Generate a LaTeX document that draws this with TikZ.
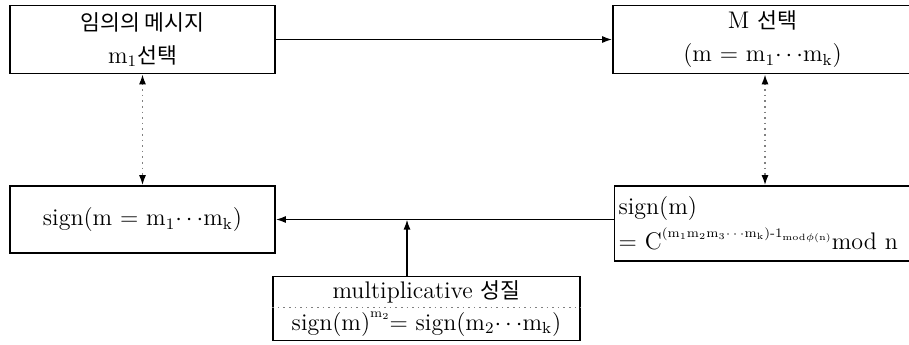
\documentclass[tikz,border=0pt]{standalone}
\usepackage{fontspec}
\newfontfamily\kr[Scale=0.9]{Noto Sans CJK KR}
\usepackage{tikz}
\usetikzlibrary{arrows.meta,shapes.multipart}
\newcommand{\expo}[1]{\raisebox{1.2ex}{\fontsize{6.5}{7}\selectfont #1}}
\tikzset{
    box/.style={draw, line width=0.8pt, rectangle, align=center,
        font=\fontsize{12}{16.5}\selectfont, inner sep=2pt},
    link/.style={line width=0.8pt, -{Latex[length=5pt,width=3.5pt]}},
    dotlink/.style={gray, dotted, line width=0.8pt,
        {Latex[length=5pt,width=3.5pt,black]}-{Latex[length=5pt,width=3.5pt,black]}}
}

\begin{document}
\begin{tikzpicture}[x=0.5pt,y=-0.5pt]
	\useasboundingbox (0,0) rectangle (909,344);
	\node[box, minimum width=132.5pt, minimum height=34pt] (pick) at (142.5,39.5)
		{{\kr 임의의 메시지}\\m\textsubscript{1}{\kr 선택}};
	\node[box, minimum width=149.5pt, minimum height=34pt] (choose) at (762.5,39.5)
		{M {\kr 선택}\\(m = m\textsubscript{1}$\cdots$m\textsubscript{k})};
	\node[box, minimum width=132.5pt, minimum height=33.5pt] (result) at (142.5,219.5)
		{sign(m = m\textsubscript{1}$\cdots$m\textsubscript{k})};
	\node[box, text width=146pt, align=left, minimum height=37.5pt] (sig) at (764.5,223.5)
		{sign(m)\\[1pt]\mbox{= C\expo{(m\textsubscript{1}m\textsubscript{2}m\textsubscript{3}$\cdots$m\textsubscript{k})-1\textsubscript{mod$\phi$(n)}}mod n}};
	\node[box, rectangle split, rectangle split parts=2, rectangle split draw splits=false,
		minimum width=153.5pt, inner xsep=1.5pt, inner ysep=1.8pt] (mult) at (426.5,308.5)
		{multiplicative {\kr 성질}
		\nodepart{two} sign(m)\expo{m\textsubscript{2}}= sign(m\textsubscript{2}$\cdots$m\textsubscript{k})};
	\draw[gray, dotted, line width=0.8pt] (mult.text split west) -- (mult.text split east);
	\coordinate (meet) at (407,219.5);
	%connectors
	\draw[link] (pick.east) -- (choose.west);
	\draw[dotlink] (pick.south) -- (result.north);
	\draw[dotlink] (choose.south -| 765,0) -- (sig.north -| 765,0);
	\draw[link] (sig.west |- result.east) -- (result.east);
	\draw[link] (mult.north -| meet) -- (meet);
\end{tikzpicture}
\end{document}
